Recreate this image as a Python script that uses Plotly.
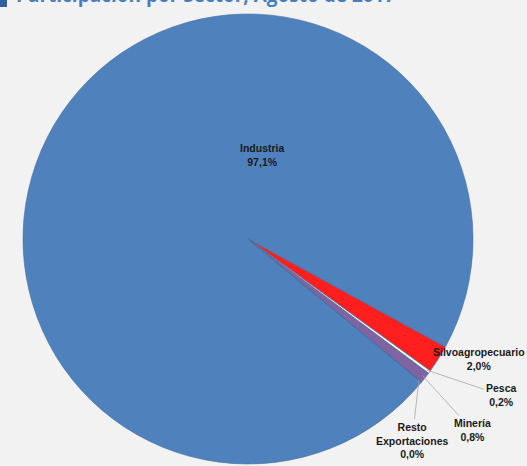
import math
import plotly.graph_objects as go

# ---- data ----
sectors = ["Industria", "Silvoagropecuario", "Pesca", "Minería", "Resto<br>Exportaciones"]
shares = [97.1, 2.0, 0.2, 0.8, 0.0]
share_labels = ["97,1%", "2,0%", "0,2%", "0,8%", "0,0%"]
colors = ["#4F81BD", "#FF1F1F", "#FFFFFF", "#8064A2", "#4BACC6"]
title_text = "Participación por Sector, Agosto de 2017"

W, H = 527, 466
cx_px, cy_px, r_px = 248, 239, 225
rotation = 129.5

dom_x = [(cx_px - r_px) / W, (cx_px + r_px) / W]
dom_y = [1 - (cy_px + r_px) / H, 1 - (cy_px - r_px) / H]

fig = go.Figure(go.Pie(
    labels=[s.replace("<br>", " ") for s in sectors],
    values=shares,
    sort=False,
    direction="clockwise",
    rotation=rotation,
    marker=dict(colors=colors, line=dict(color="#41719C", width=0.6)),
    textinfo="none",
    hoverinfo="label+percent",
    showlegend=False,
    domain=dict(x=dom_x, y=dom_y),
))

# compute mid-angle of each slice for leader-line tips
total = sum(shares)
mids = []
acc = rotation
for v in shares:
    span = v / total * 360
    mids.append(acc + span / 2)
    acc += span

def edge_point(angle_deg, frac=1.0):
    a = math.radians(angle_deg)
    px = cx_px + r_px * frac * math.sin(a)
    py = cy_px - r_px * frac * math.cos(a)
    return px / W, 1 - py / H

lab_font = dict(family="Liberation Sans, Arial, sans-serif", size=10.5, color="#1A1A1A")

def label_text(i):
    return "<b>" + sectors[i] + "<br>" + share_labels[i] + "</b>"

# Industria label (inside)
fig.add_annotation(x=262 / W, y=1 - 155 / H, xref="paper", yref="paper",
                   xanchor="center", yanchor="middle",
                   text=label_text(0), showarrow=False, font=lab_font, align="center")
# Silvoagropecuario label
fig.add_annotation(x=479 / W, y=1 - 359 / H, xref="paper", yref="paper",
                   xanchor="center", yanchor="middle",
                   text=label_text(1), showarrow=False, font=lab_font, align="center")

# labels with leader lines: (index, label center px)
leader = [(2, (501, 395)), (3, (472, 430)), (4, (412, 440))]
for i, (lx, ly) in leader:
    tx, ty = edge_point(mids[i], 0.985)
    tpx, tpy = tx * W, (1 - ty) * H
    fig.add_annotation(x=tx, y=ty, xref="paper", yref="paper",
                       ax=lx - tpx, ay=ly - tpy, axref="pixel", ayref="pixel",
                       text=label_text(i), showarrow=True, arrowhead=0,
                       arrowwidth=0.8, arrowcolor="#A6A6A6", standoff=0,
                       font=lab_font, align="center")

# title (mostly cut off at the top, as in the reference)
fig.add_annotation(x=14 / W, y=1 - 10 / H, xref="paper", yref="paper",
                   xanchor="left", yanchor="bottom", showarrow=False,
                   text="<b>" + title_text + "</b>",
                   font=dict(family="Open Sans, sans-serif", size=19, color="#4A7EBB"))
fig.add_shape(type="rect", xref="paper", yref="paper",
              x0=0, x1=7 / W, y0=1 - 7 / H, y1=1.02,
              fillcolor="#2E5F9E", line=dict(width=0))

fig.update_layout(
    width=W, height=H,
    margin=dict(l=0, r=0, t=0, b=0),
    paper_bgcolor="#F2F2F2",
    plot_bgcolor="#F2F2F2",
)

fig.write_html("out.html", config={"displayModeBar": False},
               post_script="document.body.style.margin='0';document.body.style.padding='0';")
